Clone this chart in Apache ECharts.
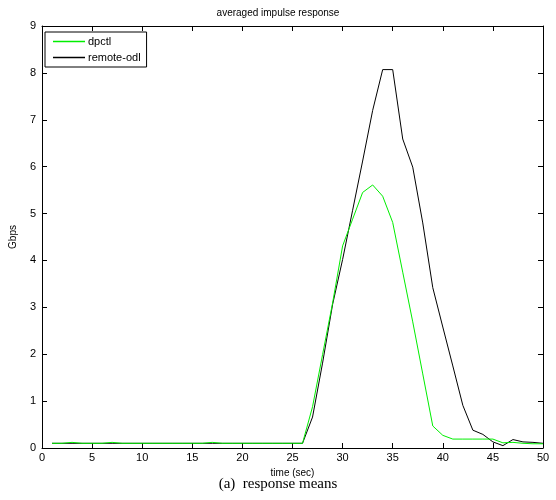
<!DOCTYPE html>
<html><head><meta charset="utf-8">
<script src="https://cdn.jsdelivr.net/npm/echarts@6/dist/echarts.min.js"></script>
<style>html,body{margin:0;padding:0;background:#fff}#c{width:556px;height:500px}</style>
</head><body><div id="c"></div>
<script>
const timeSec = [1,2,3,4,5,6,7,8,9,10,11,12,13,14,15,16,17,18,19,20,21,22,23,24,25,26,27,28,29,30,31,32,33,34,35,36,37,38,39,40,41,42,43,44,45,46,47,48,49,50];
const dpctl = [0.1,0.1,0.12,0.1,0.1,0.1,0.12,0.1,0.1,0.1,0.1,0.1,0.1,0.1,0.1,0.1,0.12,0.1,0.1,0.1,0.1,0.1,0.1,0.1,0.1,0.1,
  0.88,1.99,3.09,4.31,4.88,5.45,5.61,5.37,4.81,3.75,2.69,1.58,0.47,0.27,0.19,0.19,0.19,0.19,0.19,0.11,0.12,0.1,0.09,0.09];
const remoteOdl = [0.1,0.1,0.1,0.1,0.1,0.1,0.1,0.1,0.1,0.1,0.1,0.1,0.1,0.1,0.1,0.1,0.1,0.1,0.1,0.1,0.1,0.1,0.1,0.1,0.1,0.1,
  0.66,1.81,3.06,4.02,5.07,6.12,7.2,8.07,8.07,6.59,5.99,4.8,3.42,2.58,1.75,0.91,0.38,0.29,0.13,0.05,0.18,0.13,0.12,0.1];
const seriesNames = ['dpctl','remote-odl'];
const xTicks = {min:0,max:50,interval:5};
const yTicks = {min:0,max:9,interval:1};

const font = 'Liberation Sans, Arial, Helvetica, sans-serif';
const chart = echarts.init(document.getElementById('c'),null,{renderer:'canvas'});
const pairs = arr => timeSec.map((t,i)=>[t,arr[i]]);
const axisCommon = {
  axisLine:{show:true,onZero:false,lineStyle:{color:'#000',width:1}},
  axisTick:{show:true,inside:true,length:5,lineStyle:{color:'#000'}},
  splitLine:{show:false}
};
chart.setOption({
  animation:false,
  backgroundColor:'#fff',
  title:{text:'averaged impulse response',left:'center',top:3,
    textStyle:{fontFamily:font,fontSize:10,fontWeight:'normal',color:'#000'}},
  grid:{left:40,right:13,top:26,bottom:52},
  legend:{orient:'vertical',left:45,top:32,
    data:seriesNames.map(n=>({name:n,icon:'rect'})),
    itemWidth:32,itemHeight:1.5,itemGap:5,
    borderColor:'#000',borderWidth:1,padding:[4,6,4,8],backgroundColor:'#fff',
    textStyle:{fontFamily:font,fontSize:11,color:'#000',padding:[0,0,0,-2]}},
  xAxis:[
    Object.assign({type:'value',min:xTicks.min,max:xTicks.max,interval:xTicks.interval,position:'bottom',
      name:'time (sec)',nameLocation:'middle',nameGap:17,
      nameTextStyle:{fontFamily:font,fontSize:10,color:'#000'},
      axisLabel:{fontFamily:font,fontSize:11,color:'#000',margin:4}},axisCommon),
    Object.assign({type:'value',min:xTicks.min,max:xTicks.max,interval:xTicks.interval,position:'top',
      axisLabel:{show:false}},axisCommon)
  ],
  yAxis:[
    Object.assign({type:'value',min:yTicks.min,max:yTicks.max,interval:yTicks.interval,position:'left',
      name:'Gbps',nameLocation:'middle',nameGap:24,nameRotate:90,
      nameTextStyle:{fontFamily:font,fontSize:10,color:'#000'},
      axisLabel:{fontFamily:font,fontSize:11,color:'#000',margin:6}},axisCommon),
    Object.assign({type:'value',min:yTicks.min,max:yTicks.max,interval:yTicks.interval,position:'right',
      axisLabel:{show:false}},axisCommon)
  ],
  graphic:[{type:'text',left:'center',top:477,
    style:{text:'(a)  response means',font:'15px "Liberation Serif", "Times New Roman", serif',fill:'#000'}}],
  series:[
    {name:seriesNames[0],type:'line',data:pairs(dpctl),showSymbol:false,symbol:'none',
      lineStyle:{color:'#00ee00',width:1},itemStyle:{color:'#00ee00'},z:3},
    {name:seriesNames[1],type:'line',data:pairs(remoteOdl),showSymbol:false,symbol:'none',
      lineStyle:{color:'#000',width:1},itemStyle:{color:'#000'},z:2}
  ]
});
</script></body></html>
